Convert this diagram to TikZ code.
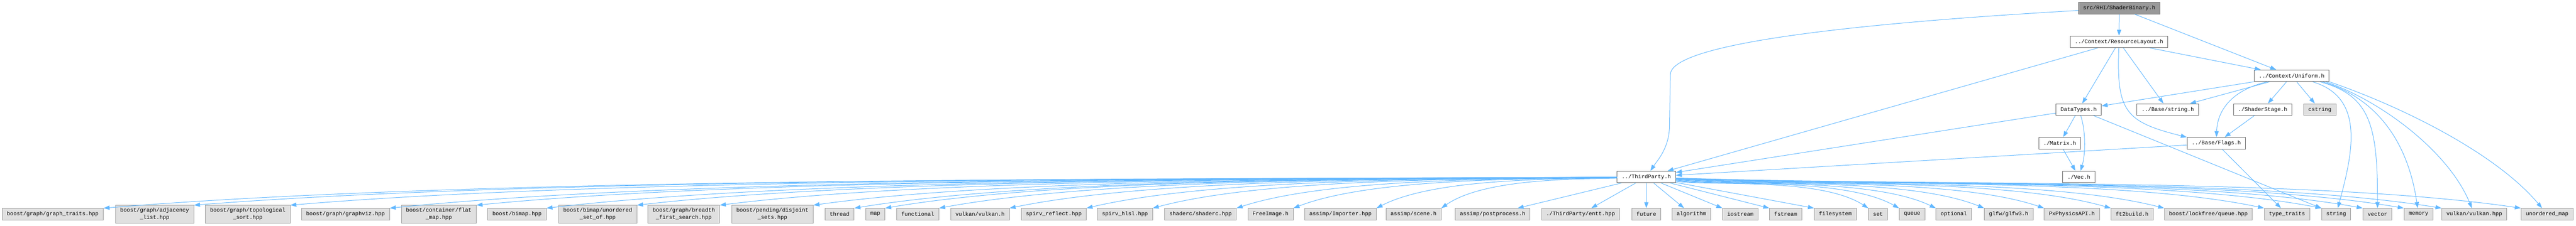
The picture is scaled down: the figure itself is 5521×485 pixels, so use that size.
\documentclass[tikz,border=0pt]{standalone}
\usepackage{fontspec}
\setmonofont{Liberation Mono}
\usetikzlibrary{arrows.meta}

\definecolor{edgeblue}{HTML}{63B8FF}
\definecolor{boxline}{HTML}{666666}
\definecolor{sysline}{HTML}{999999}
\definecolor{sysfill}{HTML}{E0E0E0}
\definecolor{topfill}{HTML}{999999}

\tikzset{
  graphnode/.style={rectangle, font=\ttfamily\fontsize{11.7}{15}\selectfont, inner xsep=10pt, inner ysep=6pt, minimum height=25pt, align=center, line width=1pt},
  filebox/.style={graphnode, draw=boxline, fill=white},
  sysbox/.style={graphnode, draw=sysline, fill=sysfill},
  mainbox/.style={graphnode, draw=boxline, fill=topfill},
  dep/.style={draw=edgeblue, line width=1.1pt, -{Triangle[length=13pt,width=9pt]}}
}

\begin{document}
\begin{tikzpicture}[x=1pt, y=-1pt]
        \useasboundingbox (0,0) rectangle (5521,485);

        % project headers
        \node[mainbox] (shaderbinary) at (4542,17.5) {src/RHI/ShaderBinary.h};
        \node[filebox] (resourcelayout) at (4541.5,90) {../Context/ResourceLayout.h};
        \node[filebox] (uniform) at (4911.5,163) {../Context/Uniform.h};
        \node[filebox] (datatypes) at (4455,235.5) {DataTypes.h};
        \node[filebox] (basestring) at (4646,235.5) {../Base/string.h};
        \node[filebox] (shaderstage) at (4849.5,235.5) {./ShaderStage.h};
        \node[sysbox] (cstring) at (4972,235.5) {cstring};
        \node[filebox] (matrix) at (4414.5,308) {./Matrix.h};
        \node[filebox] (flags) at (4750,308) {../Base/Flags.h};
        \node[filebox] (vec) at (4455.5,380.5) {./Vec.h};
        \node[filebox] (thirdparty) at (3528.5,380.5) {../ThirdParty.h};

        % external headers
        \node[sysbox] (graphtraits) at (113,460.5) {boost/graph/graph\_traits.hpp};
        \node[sysbox] (adjacency) at (331.5,460.5) {boost/graph/adjacency\\\_list.hpp};
        \node[sysbox] (topological) at (531,460.5) {boost/graph/topological\\\_sort.hpp};
        \node[sysbox] (graphviz) at (740.5,460.5) {boost/graph/graphviz.hpp};
        \node[sysbox] (flatmap) at (940.5,460.5) {boost/container/flat\\\_map.hpp};
        \node[sysbox] (bimap) at (1108,460.5) {boost/bimap.hpp};
        \node[sysbox] (unorderedset) at (1281,460.5) {boost/bimap/unordered\\\_set\_of.hpp};
        \node[sysbox] (breadth) at (1465.5,460.5) {boost/graph/breadth\\\_first\_search.hpp};
        \node[sysbox] (disjoint) at (1655.5,460.5) {boost/pending/disjoint\\\_sets.hpp};
        \node[sysbox] (thread) at (1799.5,460.5) {thread};
        \node[sysbox] (map) at (1876,460.5) {map};
        \node[sysbox] (functional) at (1967,460.5) {functional};
        \node[sysbox] (vulkanh) at (2100.5,460.5) {vulkan/vulkan.h};
        \node[sysbox] (spirvreflect) at (2258.5,460.5) {spirv\_reflect.hpp};
        \node[sysbox] (spirvhlsl) at (2411,460.5) {spirv\_hlsl.hpp};
        \node[sysbox] (shaderc) at (2573,460.5) {shaderc/shaderc.hpp};
        \node[sysbox] (freeimage) at (2723,460.5) {FreeImage.h};
        \node[sysbox] (importer) at (2873,460.5) {assimp/Importer.hpp};
        \node[sysbox] (scene) at (3029.5,460.5) {assimp/scene.h};
        \node[sysbox] (postprocess) at (3199,460.5) {assimp/postprocess.h};
        \node[sysbox] (entt) at (3387.5,460.5) {./ThirdParty/entt.hpp};
        \node[sysbox] (future) at (3528.5,460.5) {future};
        \node[sysbox] (algorithm) at (3625,460.5) {algorithm};
        \node[sysbox] (iostream) at (3730,460.5) {iostream};
        \node[sysbox] (fstream) at (3827,460.5) {fstream};
        \node[sysbox] (filesystem) at (3933.5,460.5) {filesystem};
        \node[sysbox] (set) at (4025,460.5) {set};
        \node[sysbox] (queue) at (4098,460.5) {queue};
        \node[sysbox] (optional) at (4187.5,460.5) {optional};
        \node[sysbox] (glfw) at (4305,460.5) {glfw/glfw3.h};
        \node[sysbox] (physx) at (4440.5,460.5) {PxPhysicsAPI.h};
        \node[sysbox] (ftbuild) at (4569.5,460.5) {ft2build.h};
        \node[sysbox] (lockfree) at (4733,460.5) {boost/lockfree/queue.hpp};
        \node[sysbox] (typetraits) at (4901.5,460.5) {type\_traits};
        \node[sysbox] (stdstring) at (5007,460.5) {string};
        \node[sysbox] (vector) at (5095.5,460.5) {vector};
        \node[sysbox] (memory) at (5183.5,460.5) {memory};
        \node[sysbox] (vulkanhpp) at (5303,460.5) {vulkan/vulkan.hpp};
        \node[sysbox] (unorderedmap) at (5459,460.5) {unordered\_map};

        % includes of the upper headers
        \draw[dep] (shaderbinary) -- (resourcelayout);
        \draw[dep] (shaderbinary) -- (uniform);
        \draw[dep] (shaderbinary) .. controls (4150,40) and (3582,80) .. (3580,160) -- (3578,275) .. controls (3576,320) and (3552,345) .. (thirdparty);
        \draw[dep] (resourcelayout) -- (thirdparty);
        \draw[dep] (resourcelayout) -- (datatypes);
        \draw[dep] (resourcelayout) -- (basestring);
        \draw[dep] (resourcelayout) -- (uniform);
        \draw[dep] (resourcelayout) .. controls (4536,240) and (4555,262) .. (flags.north west);
        \draw[dep] (uniform) -- (datatypes);
        \draw[dep] (uniform) -- (basestring);
        \draw[dep] (uniform) .. controls (4780,195) and (4752,240) .. (flags);
        \draw[dep] (uniform) -- (shaderstage);
        \draw[dep] (uniform) -- (cstring);
        \draw[dep] (uniform.-16) .. controls (5070,210) and (5042,330) .. (stdstring);
        \draw[dep] (uniform.-12) .. controls (5080,205) and (5096,270) .. (vector);
        \draw[dep] (uniform.-11) .. controls (5090,210) and (5160,300) .. (memory);
        \draw[dep] (uniform.-10) .. controls (5110,220) and (5250,330) .. (vulkanhpp);
        \draw[dep] (uniform.-9) .. controls (5150,230) and (5350,330) .. (unorderedmap);
        \draw[dep] (datatypes) -- (thirdparty);
        \draw[dep] (datatypes) -- (matrix);
        \draw[dep] (datatypes) .. controls (4470,280) and (4470,330) .. (vec);
        \draw[dep] (datatypes) -- (stdstring);
        \draw[dep] (matrix) -- (vec);
        \draw[dep] (shaderstage) -- (flags);
        \draw[dep] (flags) -- (thirdparty);
        \draw[dep] (flags) -- (typetraits);

        % includes of ThirdParty.h, left side
        \draw[dep] (thirdparty) .. controls +(-1080,5) and +(810,-67) .. (graphtraits.north east);
        \draw[dep] (thirdparty) .. controls +(-1016,5) and +(762,-60) .. (adjacency.north east);
        \draw[dep] (thirdparty) .. controls +(-948,5) and +(711,-60) .. (topological.north east);
        \draw[dep] (thirdparty) .. controls +(-877,5) and +(658,-67) .. (graphviz.north east);
        \draw[dep] (thirdparty) .. controls +(-815,5) and +(611,-60) .. (flatmap.north east);
        \draw[dep] (thirdparty) .. controls +(-765,5) and +(574,-67) .. (bimap.north east);
        \draw[dep] (thirdparty) .. controls +(-700,5) and +(525,-60) .. (unorderedset.north east);
        \draw[dep] (thirdparty) .. controls +(-641,5) and +(481,-60) .. (breadth.north east);
        \draw[dep] (thirdparty) .. controls +(-574,5) and +(430,-60) .. (disjoint.north east);
        \draw[dep] (thirdparty) .. controls +(-544,5) and +(408,-67) .. (thread.north east);
        \draw[dep] (thirdparty) .. controls +(-523,5) and +(392,-67) .. (map.north east);
        \draw[dep] (thirdparty) .. controls +(-484,5) and +(363,-67) .. (functional.north east);
        \draw[dep] (thirdparty) .. controls +(-434,5) and +(325,-67) .. (vulkanh.north east);
        \draw[dep] (thirdparty) .. controls +(-379,5) and +(284,-67) .. (spirvreflect.north east);
        \draw[dep] (thirdparty) .. controls +(-331,5) and +(249,-67) .. (spirvhlsl.north east);
        \draw[dep] (thirdparty) .. controls +(-272,5) and +(204,-67) .. (shaderc.north east);
        \draw[dep] (thirdparty) .. controls +(-231,5) and +(173,-67) .. (freeimage.north east);
        \draw[dep] (thirdparty) .. controls +(-172,5) and +(129,-67) .. (importer.north east);
        \draw[dep] (thirdparty) .. controls +(-127,5) and +(95,-67) .. (scene.north east);
        \draw[dep] (thirdparty) -- (postprocess);
        \draw[dep] (thirdparty) -- (entt);
        \draw[dep] (thirdparty) -- (future);

        % includes of ThirdParty.h, right side
        \draw[dep] (thirdparty) -- (algorithm);
        \draw[dep] (thirdparty) -- (iostream.north west);
        \draw[dep] (thirdparty) -- (fstream.north west);
        \draw[dep] (thirdparty) -- (filesystem.north west);
        \draw[dep] (thirdparty) .. controls +(137,20) and +(-103,-67) .. (set.north west);
        \draw[dep] (thirdparty) .. controls +(159,20) and +(-119,-67) .. (queue.north west);
        \draw[dep] (thirdparty) .. controls +(186,20) and +(-140,-67) .. (optional.north west);
        \draw[dep] (thirdparty) .. controls +(220,20) and +(-165,-67) .. (glfw.north west);
        \draw[dep] (thirdparty) .. controls +(263,20) and +(-197,-67) .. (physx.north west);
        \draw[dep] (thirdparty) .. controls +(311,20) and +(-233,-67) .. (ftbuild.north west);
        \draw[dep] (thirdparty) .. controls +(349,20) and +(-262,-67) .. (lockfree.north west);
        \draw[dep] (thirdparty) .. controls +(420,20) and +(-315,-67) .. (typetraits.north west);
        \draw[dep] (thirdparty) .. controls +(461,20) and +(-346,-67) .. (stdstring.north west);
        \draw[dep] (thirdparty) .. controls +(490,20) and +(-368,-67) .. (vector.north west);
        \draw[dep] (thirdparty) .. controls +(520,20) and +(-390,-67) .. (memory.north west);
        \draw[dep] (thirdparty) .. controls +(549,20) and +(-412,-67) .. (vulkanhpp.north west);
        \draw[dep] (thirdparty) .. controls +(603,20) and +(-453,-67) .. (unorderedmap.north west);
\end{tikzpicture}
\end{document}
